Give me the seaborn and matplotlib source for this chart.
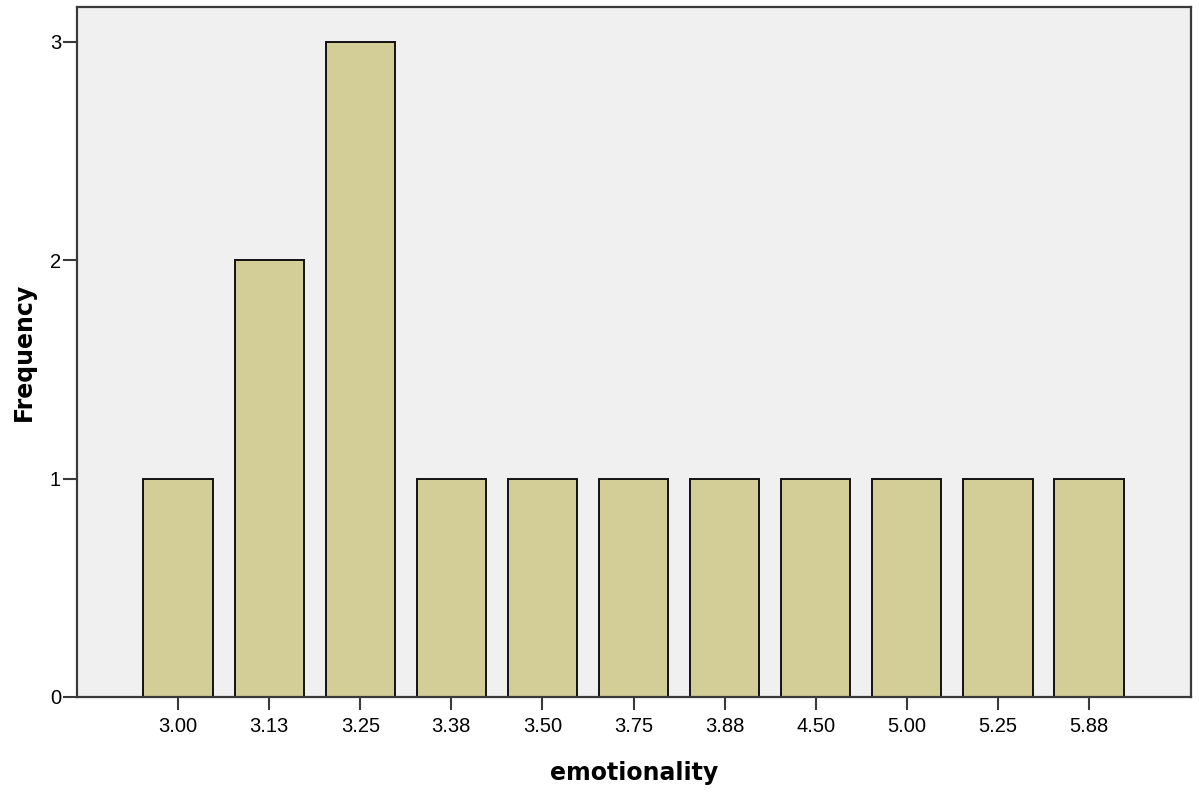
import seaborn as sns
import pandas as pd
from matplotlib import pyplot as plt

categories = ["3.00", "3.13", "3.25", "3.38", "3.50", "3.75", "3.88", "4.50", "5.00", "5.25", "5.88"]
frequency = [1, 2, 3, 1, 1, 1, 1, 1, 1, 1, 1]

df = pd.DataFrame({"emotionality": categories, "Frequency": frequency})

sns.set_style("white")
plt.rcParams["font.family"] = ["Liberation Sans", "DejaVu Sans"]
plt.rcParams["text.color"] = "black"
plt.rcParams["axes.labelcolor"] = "black"
plt.rcParams["xtick.color"] = "black"
plt.rcParams["ytick.color"] = "black"

fig = plt.figure(figsize=(11.99, 7.96), dpi=100)
ax = fig.add_axes([77 / 1199, 1 - 697 / 796, (1191 - 77) / 1199, (697 - 7) / 796])
ax.set_facecolor("#F0F0F0")

sns.barplot(data=df, x="emotionality", y="Frequency", color="#D3CE98",
            saturation=1, width=0.76, edgecolor="#111111", linewidth=1.4, ax=ax)

ax.set_xlim(-1.11, 11.12)
ax.set_ylim(0, 3.16)
ax.set_yticks([0, 1, 2, 3])

for s in ax.spines.values():
    s.set_color("#3a3a3a")
    s.set_linewidth(1.6)

ax.tick_params(axis="y", direction="out", length=10, width=1.5, color="#3a3a3a",
               labelsize=14.5, pad=1.5, left=True)
ax.tick_params(axis="x", direction="out", length=9.5, width=1.5, color="#3a3a3a",
               labelsize=14.5, pad=5, bottom=True)

ax.set_xlabel("emotionality", fontsize=17, fontweight="bold", family="DejaVu Sans", labelpad=18)
ax.set_ylabel("Frequency", fontsize=17, fontweight="bold", family="DejaVu Sans", labelpad=10)

fig.savefig("out.png", dpi=100)
